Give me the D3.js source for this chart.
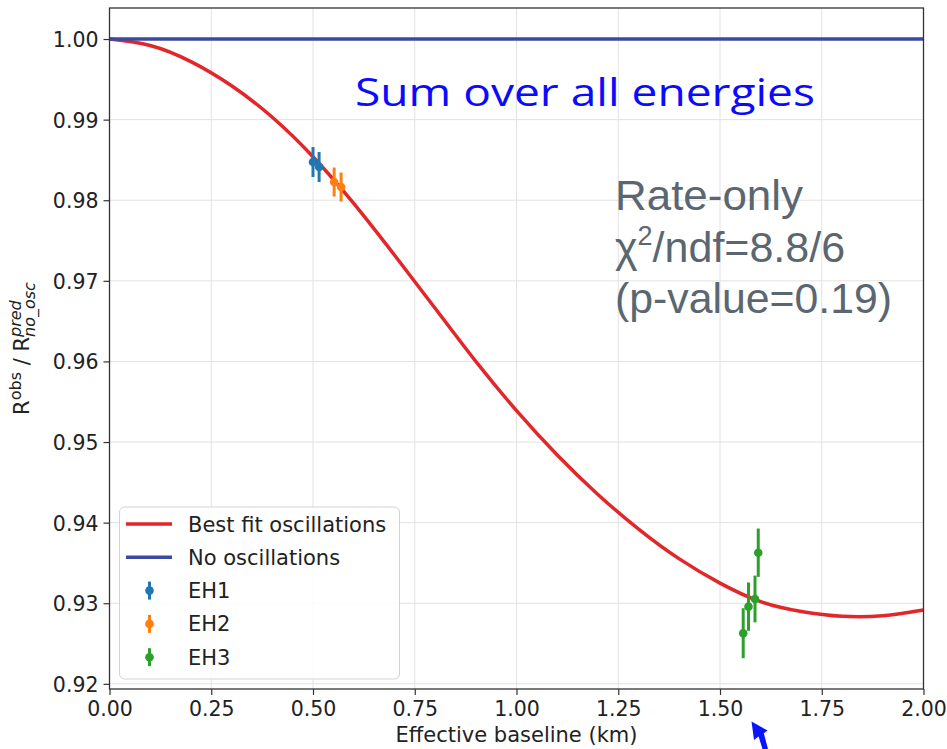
<!DOCTYPE html>
<html><head><meta charset="utf-8">
<script src="https://cdn.jsdelivr.net/npm/d3@7"></script>
<style>body{margin:0;background:#fff;} svg{display:block;}</style>
</head><body>
<svg id="chart" width="947" height="749"></svg>
<script>
// ---- data ----
const xTicks = [0.00, 0.25, 0.50, 0.75, 1.00, 1.25, 1.50, 1.75, 2.00];
const yTicks = [0.92, 0.93, 0.94, 0.95, 0.96, 0.97, 0.98, 0.99, 1.00];

// best-fit oscillation curve
const fitL = [0.0, 0.1, 0.2, 0.3, 0.4, 0.5, 0.6, 0.7, 0.8, 0.9, 1.0, 1.1, 1.2, 1.3, 1.4, 1.5, 1.6, 1.7, 1.8, 1.9, 2.0];
const fitR = [1.0000, 0.9992, 0.9972, 0.9942, 0.9903, 0.9854, 0.9796, 0.9732, 0.9666, 0.9600, 0.9539, 0.9484, 0.9435, 0.9392, 0.9355, 0.9325, 0.9302, 0.92898, 0.92838, 0.92845, 0.92916];

// no-oscillation line
const noOscL = [0.0, 2.0];
const noOscR = [1.0, 1.0];

// data points
const eh1L = [0.500, 0.515];
const eh1R = [0.98474, 0.98412];
const eh1E = [0.00186, 0.00186];
const eh2L = [0.552, 0.569];
const eh2R = [0.98226, 0.98164];
const eh2E = [0.00180, 0.00180];
const eh3L = [1.557, 1.570, 1.586, 1.594];
const eh3R = [0.92628, 0.92958, 0.93053, 0.93627];
const eh3E = [0.00310, 0.00300, 0.00290, 0.00300];

const legendLabels = ["Best fit oscillations", "No oscillations", "EH1", "EH2", "EH3"];
const noteLines = ["Rate-only", "/ndf=8.8/6", "(p-value=0.19)"];
const titleText = "Sum over all energies";
const xLabel = "Effective baseline (km)";

// ---- drawing ----
const svg = d3.select("#chart");
const L = 109.5, R = 923.5, T = 8, B = 689;
const x = d3.scaleLinear().domain([0, 2]).range([L, R]);
const y = d3.scaleLinear().domain([0.91936, 1.00385]).range([B, T]);

const cRed = "#e3262a", cBlue = "#3a4aa3";
const cEH = ["#1f77b4", "#ff7f0e", "#2ca02c"];
const font = "'DejaVu Sans', sans-serif";

// grid
const grid = svg.append("g");
grid.selectAll("line.gx").data(xTicks).join("line")
  .attr("x1", d => x(d)).attr("x2", d => x(d)).attr("y1", T).attr("y2", B)
  .attr("stroke", "#e2e2e2").attr("stroke-width", 1);
grid.selectAll("line.gy").data(yTicks).join("line")
  .attr("y1", d => y(d)).attr("y2", d => y(d)).attr("x1", L).attr("x2", R)
  .attr("stroke", "#e2e2e2").attr("stroke-width", 1);

// curves
svg.append("path").datum(fitL.map((l, i) => [l, fitR[i]]))
  .attr("d", d3.line().x(d => x(d[0])).y(d => y(d[1])).curve(d3.curveNatural)).attr("fill", "none")
  .attr("stroke", cRed).attr("stroke-width", 3.5);
svg.append("path").datum(noOscL.map((l, i) => [l, noOscR[i]]))
  .attr("d", d3.line().x(d => x(d[0])).y(d => y(d[1]))).attr("fill", "none")
  .attr("stroke", cBlue).attr("stroke-width", 3.5);

// points
[[eh1L, eh1R, eh1E], [eh2L, eh2R, eh2E], [eh3L, eh3R, eh3E]].forEach((s, k) => {
  const pts = s[0].map((l, i) => ({l, r: s[1][i], e: s[2][i]}));
  const g = svg.append("g");
  g.selectAll("line").data(pts).join("line")
    .attr("x1", d => x(d.l)).attr("x2", d => x(d.l))
    .attr("y1", d => y(d.r - d.e)).attr("y2", d => y(d.r + d.e))
    .attr("stroke", cEH[k]).attr("stroke-width", 3);
  g.selectAll("circle").data(pts).join("circle")
    .attr("cx", d => x(d.l)).attr("cy", d => y(d.r)).attr("r", 4.3)
    .attr("fill", cEH[k]);
});

// axes
const xAxis = svg.append("g").attr("transform", `translate(0,${B})`)
  .call(d3.axisBottom(x).tickValues(xTicks).tickFormat(d3.format(".2f")).tickSize(6).tickSizeOuter(0));
const yAxis = svg.append("g").attr("transform", `translate(${L},0)`)
  .call(d3.axisLeft(y).tickValues(yTicks).tickFormat(d3.format(".2f")).tickSize(6).tickSizeOuter(0));
[xAxis, yAxis].forEach(a => {
  a.select(".domain").remove();
  a.selectAll(".tick line").attr("stroke", "#333").attr("stroke-width", 1.2);
  a.selectAll(".tick text").attr("fill", "#222").style("font-family", font).style("font-size", "20.5px");
});
xAxis.selectAll(".tick text").attr("dy", 0).attr("y", 27);
yAxis.selectAll(".tick text").attr("x", -11).attr("dy", "0.36em");

// frame
svg.append("rect").attr("x", L).attr("y", T).attr("width", R - L).attr("height", B - T)
  .attr("fill", "none").attr("stroke", "#333").attr("stroke-width", 1.3);

// x label
svg.append("text").attr("x", (L + R) / 2).attr("y", 742).attr("text-anchor", "middle")
  .style("font-family", font).style("font-size", "21px").attr("fill", "#222").text(xLabel);

// y label (R^obs / R^pred_no_osc)
const yl = svg.append("g").attr("transform", "translate(28.5,348.5) rotate(-90)");
const inner = yl.append("g").style("font-family", font).attr("fill", "#222").style("white-space", "pre");
let cx = 0;
function piece(t, size, dy, style, adv) {
  const el = inner.append("text").attr("x", cx).attr("y", dy).attr("xml:space", "preserve")
    .style("font-size", size + "px").style("font-style", style || "normal").text(t);
  const w = el.node().getComputedTextLength();
  if (adv !== false) cx += w;
  return w;
}
piece("R", 21, 0);
piece("obs", 16, -8);
piece(" / R", 21, 0);
const sx = cx;
const w1 = piece("pred", 16, -8, "italic", false);
const w2 = piece("no_osc", 16, 6, "italic", false);
cx = sx + Math.max(w1, w2);
inner.attr("transform", `translate(${-cx / 2},0)`);

// title annotation
svg.append("text").attr("x", 355).attr("y", 106)
  .attr("textLength", 460).attr("lengthAdjust", "spacingAndGlyphs")
  .style("font-family", "'Comic Sans MS', 'Open Sans', sans-serif").style("font-size", "38px")
  .attr("fill", "#0a0aff").text(titleText);

// fit-info text
const noteFont = "'Liberation Sans', Arial, sans-serif";
const noteColor = "#5b6770";
svg.append("text").attr("x", 615).attr("y", 210).attr("textLength", 188).attr("lengthAdjust", "spacingAndGlyphs")
  .style("font-family", noteFont).style("font-size", "43px").attr("fill", noteColor).text(noteLines[0]);
const chi = svg.append("text").attr("x", 615).attr("y", 262)
  .style("font-family", noteFont).style("font-size", "43px").attr("fill", noteColor);
chi.append("tspan").text("χ");
chi.append("tspan").attr("dy", -17).style("font-size", "27px").text("2");
chi.append("tspan").attr("dy", 17).text(noteLines[1]);
svg.append("text").attr("x", 615).attr("y", 313).attr("textLength", 277).attr("lengthAdjust", "spacingAndGlyphs")
  .style("font-family", noteFont).style("font-size", "43px").attr("fill", noteColor).text(noteLines[2]);

// legend
const lg = svg.append("g");
lg.append("rect").attr("x", 119.5).attr("y", 507).attr("width", 280).attr("height", 172).attr("rx", 5)
  .attr("fill", "#fff").attr("fill-opacity", 0.85).attr("stroke", "#d3d3d3").attr("stroke-width", 1);
const rowY = i => 524 + i * 33.3;
legendLabels.forEach((lab, i) => {
  const yy = rowY(i);
  if (i < 2) {
    lg.append("line").attr("x1", 126).attr("x2", 172).attr("y1", yy).attr("y2", yy)
      .attr("stroke", i === 0 ? cRed : cBlue).attr("stroke-width", 3.5);
  } else {
    const c = cEH[i - 2];
    lg.append("line").attr("x1", 149.5).attr("x2", 149.5).attr("y1", yy - 9).attr("y2", yy + 9)
      .attr("stroke", c).attr("stroke-width", 3);
    lg.append("circle").attr("cx", 149.5).attr("cy", yy).attr("r", 4.3).attr("fill", c);
  }
  lg.append("text").attr("x", 188).attr("y", yy + 7.5)
    .style("font-family", font).style("font-size", "21px").attr("fill", "#222").text(lab);
});

// blue arrow annotation at bottom
svg.append("path")
  .attr("d", "M751.5,721.5 L754,740 L758.6,736.6 L762.5,749 L768,749 L763.8,733.2 L767.5,730.5 Z")
  .attr("fill", "#0a14ff");
</script>
</body></html>
